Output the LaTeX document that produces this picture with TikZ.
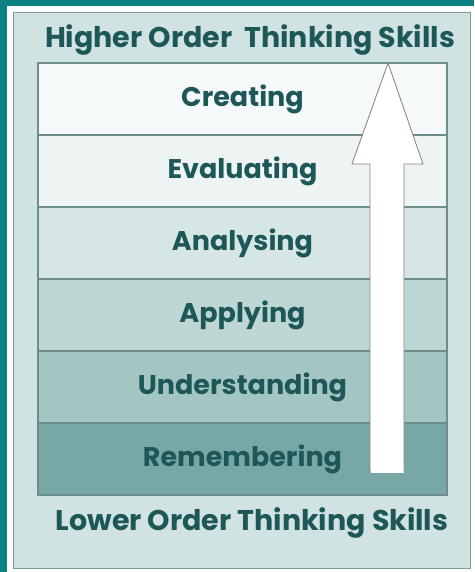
\documentclass[tikz,border=0pt]{standalone}
\usepackage{fontspec}
\setmainfont{Poppins}
\usepackage{xcolor}
\usetikzlibrary{positioning}

\definecolor{tealbg}{HTML}{0A8282}
\definecolor{panelbg}{HTML}{D0E2E1}
\definecolor{edgegray}{HTML}{7E9C9B}
\definecolor{rowline}{HTML}{6E8E8D}
\definecolor{labeltxt}{HTML}{1E5757}

\tikzset{
    level/.style={rectangle, draw=rowline, line width=1.5pt, minimum width=409pt,
        minimum height=72pt, inner sep=0pt, outer sep=0pt, text=labeltxt,
        font=\fontsize{27}{32}\selectfont\bfseries},
    heading/.style={text=labeltxt, inner sep=0pt, font=\fontsize{28.5}{33}\selectfont\bfseries}
}

\begin{document}
\begin{tikzpicture}[x=1pt, y=-1pt]
    \useasboundingbox (0,0) rectangle (474,572);
    \fill[tealbg] (0,0) rectangle (474,572);
    \fill[white!96!panelbg] (7,6) rectangle (474,572);
    \draw[edgegray, fill=panelbg, line width=1pt] (13,13) rectangle (470,568);

    \node[heading, anchor=base] (high) at (250,48) {Higher Order\ \ Thinking Skills};

    \node[level, fill={rgb,255:red,246;green,249;blue,249}, anchor=north west] (create) at (38,63) {Creating};
    \node[level, fill={rgb,255:red,238;green,244;blue,244}, below=0pt of create] (eval) {Evaluating};
    \node[level, fill={rgb,255:red,214;green,230;blue,229}, below=0pt of eval] (analyse) {Analysing};
    \node[level, fill={rgb,255:red,190;green,214;blue,212}, below=0pt of analyse] (apply) {Applying};
    \node[level, fill={rgb,255:red,164;green,198;blue,195}, below=0pt of apply] (understand) {Understanding};
    \node[level, fill={rgb,255:red,120;green,168;blue,165}, below=0pt of understand] (remember) {Remembering};

    \node[heading, anchor=base] (low) at (252,530) {Lower Order Thinking Skills};

    % the upward arrow
    \coordinate (tip) at (388,63);
    \coordinate (tail) at (387,471);
    \draw[gray, fill=white, line width=0.8pt]
        (tail) ++(-17,0) -- ++(0,-307) -- ++(-18,0) -- (tip)
        -- ([xshift=35pt]tip |- 0,164) -- ([xshift=17pt]tail |- 0,164) -- ([xshift=17pt]tail);
    \fill[white] ([xshift=-16.5pt]tail) rectangle ([xshift=16.5pt,yshift=-2pt]tail);
\end{tikzpicture}
\end{document}
